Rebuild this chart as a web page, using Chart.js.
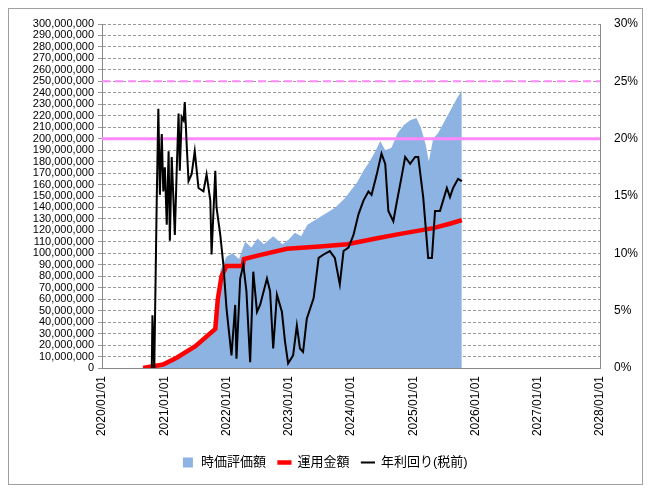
<!DOCTYPE html>
<html>
<head>
<meta charset="utf-8">
<script src="https://cdn.jsdelivr.net/npm/chart.js@4"></script>
<style>
  body { margin: 0; background: #fff; }
  #frame { position: absolute; left: 8px; top: 8px; width: 633px; height: 475px; border: 1px solid #a0a0a0; }
  #wrap { position: absolute; left: 0; top: 0; width: 649px; height: 493px; }
</style>
</head>
<body>
<div id="frame"></div>
<div id="wrap"><canvas id="c"></canvas></div>
<script>
// --- Data (x = decimal year) ---
const valueYears = [2020.68, 2020.85, 2021.0, 2021.2, 2021.4, 2021.6, 2021.8, 2021.85, 2021.9, 2022.0, 2022.1, 2022.2, 2022.3, 2022.4, 2022.5, 2022.6, 2022.75, 2022.9, 2023.0, 2023.1, 2023.2, 2023.3, 2023.45, 2023.6, 2023.75, 2023.9, 2024.0, 2024.1, 2024.2, 2024.3, 2024.4, 2024.47, 2024.55, 2024.65, 2024.75, 2024.85, 2024.95, 2025.05, 2025.12, 2025.2, 2025.25, 2025.32, 2025.4, 2025.5, 2025.6, 2025.7, 2025.78];
const valueM = [0, 1, 5, 10, 15, 25, 34, 60, 85, 97, 100, 95, 110, 105, 113, 108, 115, 108, 112, 118, 115, 125, 130, 135, 140, 148, 155, 162, 172, 180, 190, 198, 190, 192, 205, 212, 216, 218, 210, 195, 180, 200, 205, 215, 225, 235, 242];

const investYears = [2020.66, 2020.98, 2021.2, 2021.5, 2021.82, 2021.86, 2021.92, 2022.0, 2022.26, 2022.28, 2022.5, 2022.97, 2023.5, 2023.94, 2024.4, 2024.79, 2025.32, 2025.6, 2025.78];
const investM = [0, 3, 9, 19, 34, 60, 80, 89, 89, 95, 98, 104, 106, 108, 113, 117, 122, 126, 129];

const rateYears = [2020.80, 2020.81, 2020.84, 2020.88, 2020.905, 2020.93, 2020.96, 2020.985, 2021.01, 2021.04, 2021.07, 2021.09, 2021.12, 2021.17, 2021.20, 2021.23, 2021.25, 2021.28, 2021.31, 2021.33, 2021.36, 2021.39, 2021.44, 2021.49, 2021.55, 2021.63, 2021.68, 2021.74, 2021.76, 2021.82, 2021.84, 2021.90, 2021.95, 2022.00, 2022.08, 2022.14, 2022.16, 2022.22, 2022.27, 2022.32, 2022.38, 2022.43, 2022.49, 2022.54, 2022.65, 2022.70, 2022.75, 2022.81, 2022.89, 2022.94, 2022.99, 2023.07, 2023.13, 2023.18, 2023.23, 2023.29, 2023.40, 2023.48, 2023.56, 2023.66, 2023.74, 2023.82, 2023.88, 2023.96, 2024.04, 2024.12, 2024.20, 2024.28, 2024.33, 2024.41, 2024.49, 2024.55, 2024.60, 2024.68, 2024.73, 2024.81, 2024.87, 2024.95, 2025.03, 2025.08, 2025.16, 2025.24, 2025.30, 2025.35, 2025.43, 2025.54, 2025.59, 2025.64, 2025.72, 2025.78];
const ratePct = [0, 4.6, 0, 14.9, 22.6, 15.1, 20.4, 15.4, 17.5, 12.5, 18.9, 11.1, 18.4, 11.6, 17.2, 22.2, 17.2, 21.9, 21.6, 23.2, 19.5, 16.3, 16.9, 18.9, 15.7, 15.4, 16.9, 14.6, 9.9, 17.2, 14.0, 11.6, 9.0, 5.2, 1.1, 5.5, 0.8, 7.8, 9.0, 6.7, 0.5, 8.4, 4.9, 5.5, 7.8, 6.7, 1.7, 6.4, 4.9, 2.3, 0.4, 1.1, 3.7, 1.7, 1.4, 4.3, 6.1, 9.6, 9.9, 10.2, 9.6, 7.3, 10.2, 10.5, 11.6, 13.4, 14.6, 15.4, 15.1, 16.8, 18.7, 17.8, 13.7, 12.8, 14.3, 16.6, 18.4, 17.8, 18.4, 18.4, 14.9, 9.6, 9.6, 13.7, 13.7, 15.7, 14.9, 15.7, 16.5, 16.3];

const refYears = [2020, 2028];
const refSolid = [20, 20];
const refDashed = [25, 25];

const labels = ['時価評価額', '運用金額', '年利回り(税前)'];

const toXY = (xs, ys) => xs.map((x, i) => ({ x: x, y: ys[i] }));

Chart.defaults.font = { family: 'Liberation Sans, Noto Sans CJK JP, sans-serif', size: 12 };
Chart.defaults.color = '#000';

new Chart(document.getElementById('c'), {
  type: 'line',
  data: {
    datasets: [
      { label: labels[2], data: toXY(rateYears, ratePct), yAxisID: 'y2', borderColor: '#000', borderWidth: 2, pointRadius: 0, tension: 0, order: 1, pointStyle: 'line' },
      { label: labels[1], data: toXY(investYears, investM), yAxisID: 'y', borderColor: '#ff0000', borderWidth: 4.5, pointRadius: 0, order: 2, pointStyle: 'line' },
      { label: '_solid', data: toXY(refYears, refSolid), yAxisID: 'y2', borderColor: '#ff88ff', borderWidth: 3, pointRadius: 0, order: 3 },
      { label: '_dashed', data: toXY(refYears, refDashed), yAxisID: 'y2', borderColor: '#ff88ff', borderWidth: 2, borderDash: [8, 5], pointRadius: 0, order: 3 },
      { label: labels[0], data: toXY(valueYears, valueM), yAxisID: 'y', borderColor: '#8db3e2', backgroundColor: '#8db3e2', borderWidth: 0, fill: 'origin', pointRadius: 0, order: 4, pointStyle: 'rect' }
    ]
  },
  options: {
    responsive: true,
    maintainAspectRatio: false,
    animation: false,
    layout: { padding: { left: 0, right: 0, top: 24, bottom: 14 } },
    scales: {
      x: {
        type: 'linear', min: 2020, max: 2028,
        ticks: { stepSize: 1, maxRotation: 90, minRotation: 90, callback: v => v + '/01/01', font: { size: 12 } },
        grid: { display: false, drawTicks: true, tickLength: 5 },
        border: { color: '#888' },
        afterFit: s => { s.height = 76; }
      },
      y: {
        position: 'left', min: 0, max: 300,
        ticks: { stepSize: 10, autoSkip: false, callback: v => (v * 1000000).toLocaleString('en-US'), font: { size: 11 }, padding: 4 },
        grid: { color: '#999', tickLength: 4 },
        border: { color: '#888', dash: [3, 2] },
        afterFit: s => { s.width = 102; }
      },
      y2: {
        position: 'right', min: 0, max: 30,
        ticks: { stepSize: 5, callback: v => v + '%', font: { size: 12 }, padding: 6 },
        grid: { display: false },
        border: { color: '#888' },
        afterFit: s => { s.width = 49; }
      }
    },
    plugins: {
      legend: {
        position: 'bottom',
        reverse: true,
        labels: {
          usePointStyle: true, boxWidth: 32, boxHeight: 10, padding: 12, font: { size: 13 },
          filter: item => !item.text.startsWith('_')
        }
      },
      tooltip: { enabled: false }
    }
  }
});
</script>
</body>
</html>
